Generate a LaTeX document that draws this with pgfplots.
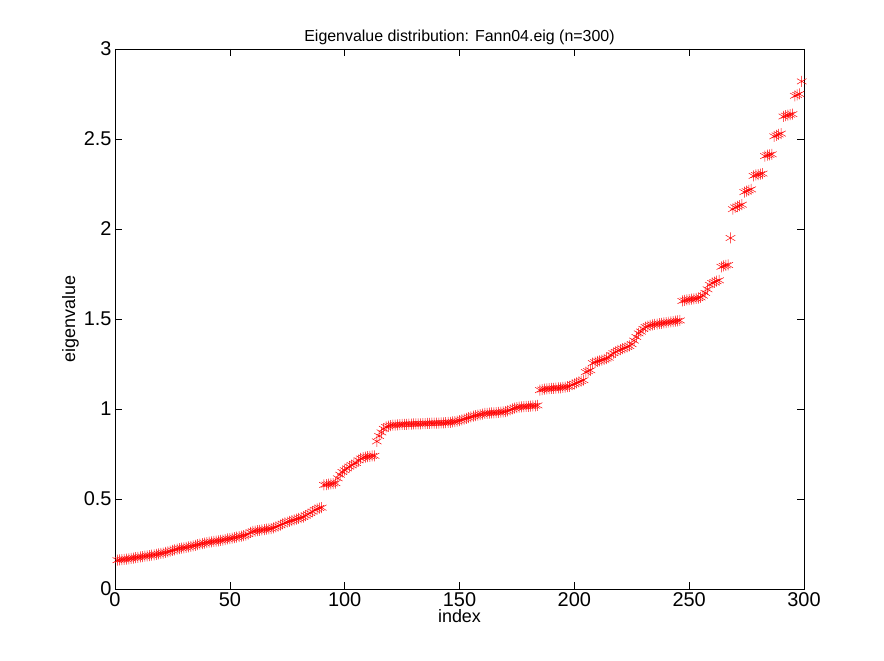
\documentclass[border=0pt]{standalone}
\usepackage{pgfplots}
\pgfplotsset{compat=1.18}
\usepackage{fontspec}
\setmainfont{Liberation Sans}
\begin{document}
\begin{tikzpicture}
\begin{axis}[name=ax, scale only axis, width=689bp, height=540bp,
 xmin=0, xmax=300, ymin=0, ymax=3,
 xtick={0,50,...,300}, ytick={0,0.5,...,3},
 tick align=inside, tick style={black, thin}, major tick length=7bp,
 yticklabel style={/pgf/number format/fixed}, /pgf/number format/assume math mode=true,
 ticklabel style={font=\fontsize{20}{22}\selectfont},
 title={Eigenvalue distribution: Fann04.eig (n=300)},
 title style={font=\fontsize{16}{18}\selectfont, yshift=-5bp},
 xlabel={index}, ylabel={eigenvalue},
 label style={font=\fontsize{18}{20}\selectfont},
 xlabel style={yshift=4bp}, ylabel style={yshift=-2bp},
 axis line style={black, thin}]
\addplot[only marks, red, mark=asterisk, mark size=5.5bp, mark options={line width=0.5pt}]
 table[x expr=\coordindex+1, y index=0, header=false] {
0.160
0.162
0.163
0.165
0.166
0.168
0.170
0.172
0.174
0.176
0.178
0.180
0.182
0.184
0.186
0.188
0.190
0.192
0.195
0.198
0.200
0.203
0.206
0.210
0.214
0.218
0.222
0.225
0.227
0.229
0.231
0.234
0.237
0.240
0.243
0.246
0.249
0.252
0.255
0.258
0.260
0.262
0.264
0.266
0.268
0.270
0.272
0.275
0.278
0.280
0.282
0.285
0.288
0.291
0.294
0.297
0.300
0.305
0.315
0.320
0.322
0.324
0.326
0.328
0.330
0.332
0.334
0.336
0.340
0.345
0.350
0.355
0.362
0.368
0.372
0.376
0.380
0.384
0.388
0.392
0.396
0.400
0.408
0.415
0.422
0.430
0.440
0.445
0.450
0.452
0.578
0.580
0.582
0.584
0.586
0.588
0.615
0.635
0.650
0.660
0.670
0.680
0.688
0.695
0.700
0.715
0.725
0.730
0.733
0.735
0.737
0.739
0.740
0.820
0.850
0.870
0.890
0.900
0.905
0.908
0.910
0.911
0.912
0.913
0.914
0.915
0.915
0.916
0.916
0.917
0.917
0.918
0.918
0.919
0.919
0.920
0.920
0.921
0.921
0.922
0.922
0.923
0.923
0.924
0.925
0.926
0.928
0.930
0.932
0.936
0.940
0.944
0.948
0.952
0.956
0.960
0.963
0.966
0.969
0.972
0.975
0.976
0.977
0.978
0.979
0.980
0.981
0.982
0.984
0.986
0.990
0.995
1.000
1.005
1.008
1.010
1.012
1.013
1.014
1.015
1.016
1.017
1.018
1.020
1.105
1.108
1.110
1.112
1.113
1.114
1.115
1.116
1.117
1.118
1.120
1.122
1.124
1.126
1.135
1.140
1.145
1.150
1.155
1.160
1.205
1.210
1.215
1.255
1.260
1.265
1.268
1.272
1.276
1.280
1.285
1.300
1.310
1.318
1.325
1.330
1.335
1.340
1.345
1.350
1.360
1.380
1.400
1.420
1.430
1.445
1.455
1.460
1.465
1.468
1.470
1.472
1.474
1.476
1.478
1.480
1.482
1.484
1.486
1.488
1.490
1.492
1.600
1.603
1.606
1.608
1.610
1.612
1.614
1.616
1.620
1.630
1.645
1.665
1.690
1.700
1.705
1.710
1.715
1.790
1.795
1.798
1.800
1.950
2.110
2.120
2.125
2.130
2.135
2.205
2.210
2.215
2.220
2.295
2.300
2.302
2.305
2.308
2.405
2.410
2.412
2.415
2.515
2.520
2.525
2.530
2.625
2.630
2.632
2.635
2.638
2.740
2.745
2.750
2.820
};
\end{axis}
\path (ax.south west) ++(-115bp,-72bp);
\path (ax.north east) ++(80bp,49bp);
\end{tikzpicture}
\end{document}
